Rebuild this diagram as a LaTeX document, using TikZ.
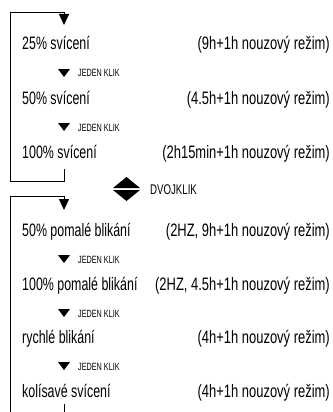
\documentclass[tikz,border=0pt]{standalone}
\usepackage{fontspec}
\setmainfont[FakeStretch=0.69]{Liberation Sans}
\newfontfamily\modefont[FakeStretch=0.72]{Liberation Sans}
\usetikzlibrary{arrows.meta}

\begin{document}
\begin{tikzpicture}[x=1pt, y=-1pt,
    rowtext/.style={anchor=base west, inner sep=0pt, font=\fontsize{18}{20}\selectfont},
    modetext/.style={anchor=base east, inner sep=0pt, font=\modefont\fontsize{18}{20}\selectfont},
    kliktext/.style={anchor=base west, inner sep=0pt, font=\fontsize{10.5}{12}\selectfont},
    bracketline/.style={black, line width=0.8pt},
    looptip/.style={-{Triangle[width=10pt, length=11pt]}}]
\useasboundingbox (0,0) rectangle (332,412);

\coordinate (riseA) at (64,169);
\coordinate (loopA) at (64,25);
\draw[bracketline, looptip] (riseA) -- (64,181) -| (10,12) -| (loopA);

\node[rowtext] (p25) at (22,50) {25\% svícení};
\node[modetext] (p25mode) at (330,50) {(9h+1h nouzový režim)};
\fill[black] (58,69) -- (70,69) -- (64,77) -- cycle;
\node[kliktext] (klikA) at (78,77) {JEDEN KLIK};
\node[rowtext] (p50) at (22,104) {50\% svícení};
\node[modetext] (p50mode) at (330,104) {(4.5h+1h nouzový režim)};
\fill[black] (58,123) -- (70,123) -- (64,131) -- cycle;
\node[kliktext] (klikB) at (78,131) {JEDEN KLIK};
\node[rowtext] (p100) at (22,158) {100\% svícení};
\node[modetext] (p100mode) at (330,158) {(2h15min+1h nouzový režim)};

\fill[black] (113,188) -- (126.5,177) -- (140,188) -- cycle;
\fill[black] (113,190) -- (126.5,201) -- (140,190) -- cycle;
\node[anchor=base west, inner sep=0pt, font=\fontsize{14}{16}\selectfont] (dvojklik) at (150,194) {DVOJKLIK};

\coordinate (loopB) at (64,210);
\coordinate (tailB) at (64,404);
\draw[bracketline, looptip] (10,414) -- (10,196) -| (loopB);
\draw[bracketline] (tailB) -- (64,414);

\node[rowtext] (slow50) at (22,236) {50\% pomalé blikání};
\node[modetext] (slow50mode) at (330,236) {(2HZ, 9h+1h nouzový režim)};
\fill[black] (58,255) -- (70,255) -- (64,263) -- cycle;
\node[kliktext] (klikC) at (78,263) {JEDEN KLIK};
\node[rowtext] (slow100) at (22,290) {100\% pomalé blikání};
\node[modetext] (slow100mode) at (330,290) {(2HZ, 4.5h+1h nouzový režim)};
\fill[black] (58,309) -- (70,309) -- (64,317) -- cycle;
\node[kliktext] (klikD) at (78,317) {JEDEN KLIK};
\node[rowtext] (fast) at (22,343) {rychlé blikání};
\node[modetext] (fastmode) at (330,343) {(4h+1h nouzový režim)};
\fill[black] (58,362) -- (70,362) -- (64,370) -- cycle;
\node[kliktext] (klikE) at (78,370) {JEDEN KLIK};
\node[rowtext] (flicker) at (22,397) {kolísavé svícení};
\node[modetext] (flickermode) at (330,397) {(4h+1h nouzový režim)};

\end{tikzpicture}
\end{document}
